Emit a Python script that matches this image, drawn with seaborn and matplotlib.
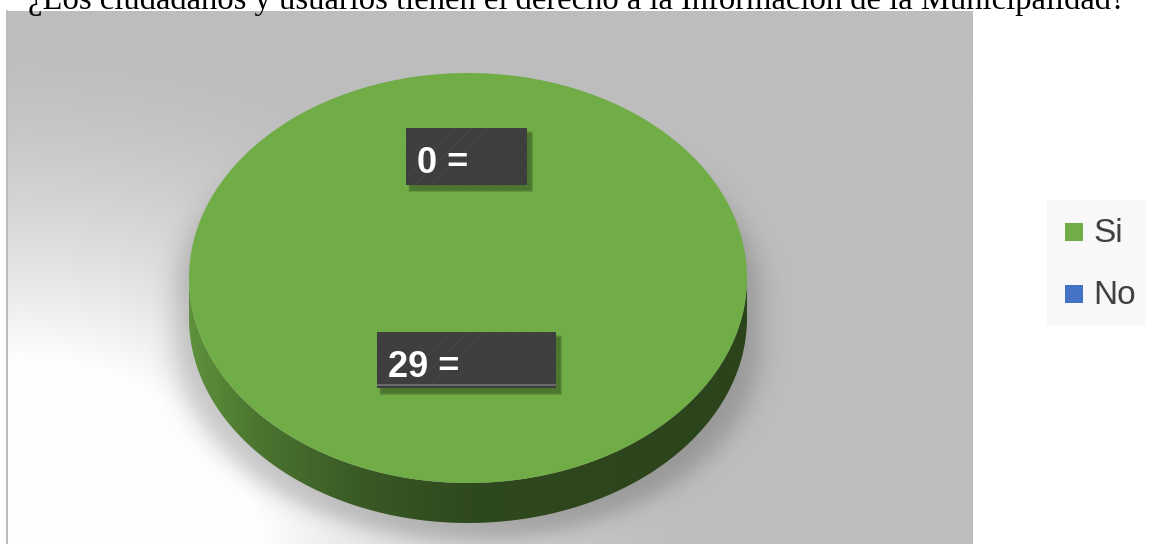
import numpy as np
import matplotlib
matplotlib.use("Agg")
import matplotlib.pyplot as plt
import seaborn as sns
from matplotlib.patches import Rectangle, Polygon
from matplotlib.colors import LinearSegmentedColormap, to_rgb

# --- data -------------------------------------------------------------
title = "¿Los ciudadanos y usuarios tienen el derecho a la Información de la Municipalidad?"
categories = ["Si", "No"]
counts = [29, 0]
slice_colors = ["#70AD47", "#4472C4"]

# --- style ------------------------------------------------------------
sns.set_theme(style="white")
plt.rcParams["font.family"] = ["Liberation Sans", "DejaVu Sans"]
plt.rcParams["hatch.linewidth"] = 0.6
palette = sns.color_palette(slice_colors)

W, H, DPI = 1153, 544, 100
fig = plt.figure(figsize=(W / DPI, H / DPI), dpi=DPI)
fig.patch.set_facecolor("white")

# pie geometry (pixels)
CX, CY, RX, RY, DEPTH = 468, 278, 279, 205, 40

# --- background panel with soft glow and pie shadow --------------------
bg = fig.add_axes([0, 0, 1, 1], zorder=0)
Y, X = np.mgrid[0:H, 0:W] + 0.5
panel = (X >= 7) & (X <= 973) & (Y >= 11)
base = 190 / 255
r = np.sqrt((X * 0.72) ** 2 + (H - Y) ** 2)
glow = np.clip((500 - r) / 316, 0, 1) ** 1.5
val = base + (1 - base) * glow
cyc = np.clip(Y, 300, 345)
ds = np.sqrt(((X - CX) / 292) ** 2 + ((Y - cyc) / 195) ** 2)
soft = 1 / (1 + np.exp((ds - 1) / 0.028))
val = val * (1 - 0.2 * soft)
img = np.where(panel, val, 1.0)
bg.imshow(np.dstack([img] * 3), extent=(0, W, H, 0), interpolation="bilinear", aspect="auto")
bg.plot([7, 7], [11, H], color="#bcbcbc", lw=1.5)
bg.set_xlim(0, W)
bg.set_ylim(H, 0)
bg.axis("off")

# --- 3D-looking pie -----------------------------------------------------
dz = DEPTH / RY
pax = fig.add_axes([(CX - RX) / W, (H - (CY + RY + DEPTH)) / H,
                    2 * RX / W, (2 * RY + DEPTH) / H], zorder=1)
wedges, _ = pax.pie(counts, colors=palette, startangle=90, counterclock=False,
                    wedgeprops=dict(linewidth=0))
for w in wedges:
    w.set_zorder(3)
pax.set_aspect("auto")
pax.axis("off")

shade_t = [0.0, 0.12, 0.3, 0.5, 1.0]
shade_f = [0.84, 0.68, 0.52, 0.42, 0.39]


def front_ranges(a, b):
    """Parts of the angular range [a, b] (degrees) facing the viewer."""
    out = []
    for k in range(-3, 4):
        lo, hi = max(a, 360 * k - 180), min(b, 360 * k)
        if hi > lo:
            out.append((lo, hi))
    return out


for w, col in zip(wedges, palette):
    a, b = sorted((w.theta1, w.theta2))
    if b - a <= 0:
        continue
    rgb = np.array(to_rgb(col))
    cmap = LinearSegmentedColormap.from_list(
        "side", [(t, tuple(rgb * f)) for t, f in zip(shade_t, shade_f)])
    for lo, hi in front_ranges(a, b):
        t = np.radians(np.linspace(lo, hi, 200))
        top = np.column_stack([np.cos(t), np.sin(t)])
        bot = np.column_stack([np.cos(t[::-1]), np.sin(t[::-1]) - dz])
        poly = Polygon(np.vstack([top, bot]), closed=True, facecolor="none",
                       edgecolor="none", transform=pax.transData)
        pax.add_patch(poly)
        grad = np.linspace(0, 1, 512)[None, :]
        im = pax.imshow(grad, cmap=cmap, extent=(-1, 1, -1 - dz, 0.05),
                        aspect="auto", zorder=2, interpolation="bilinear")
        im.set_clip_path(poly)
pax.set_xlim(-1, 1)
pax.set_ylim(-1 - dz, 1)

# --- overlay: title, data labels, legend --------------------------------
ov = fig.add_axes([0, 0, 1, 1], zorder=4)
ov.set_xlim(0, W)
ov.set_ylim(H, 0)
ov.axis("off")
ov.patch.set_alpha(0)

t = ov.text(28, 8.5, title, family=["Liberation Serif", "DejaVu Serif"],
            fontsize=20, color="black", va="baseline", ha="left")
fig.canvas.draw()
tw = t.get_window_extent().width
t.set_fontsize(20 * 1100 / tw)

label_boxes = {"No": (406, 128, 121, 57, 173), "Si": (377, 332, 179, 56, 377)}
for cat, n in zip(categories, counts):
    x, y, bw, bh, base_y = label_boxes[cat]
    for e in range(5):
        ov.add_patch(Rectangle((x + 4 - e * 0.5, y + 5 - e * 0.5), bw + e, bh + e,
                               facecolor="black", edgecolor="none", alpha=0.07))
    ov.add_patch(Rectangle((x, y), bw, bh, facecolor="#3e3e3e", edgecolor="#474747",
                           linewidth=0, hatch="//"))
    if cat == "Si":
        ov.plot([x, x + bw], [y + bh - 3.5, y + bh - 3.5], color="#6c6c6c", lw=1.4,
                solid_capstyle="butt")
    ov.text(x + 11, base_y, f"{n} =", color="white", fontweight="bold",
            fontsize=26, va="baseline", ha="left")

# legend
ov.add_patch(Rectangle((1047, 200), 99, 126, facecolor="#f8f8f8", edgecolor="none"))
for i, (cat, col) in enumerate(zip(categories, palette)):
    sy = 223 + 62 * i
    ov.add_patch(Rectangle((1065, sy), 18, 18, facecolor=col, edgecolor="none"))
    ov.text(1093, sy + 19, cat, color="#404040", fontsize=24, va="baseline", ha="left")

fig.savefig("out.png", dpi=DPI)
